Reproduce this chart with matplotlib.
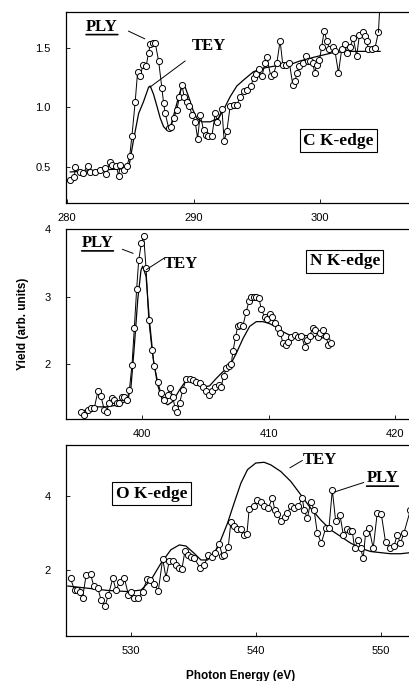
import numpy as np
import matplotlib
matplotlib.use("Agg")
import matplotlib.pyplot as plt

plt.rcParams['font.family'] = ['Liberation Sans', 'DejaVu Sans']

# --- C K-edge ---
c_ply_x = [280.21, 280.58, 280.66, 281.05, 281.26, 281.63, 281.84, 282.24, 282.63, 282.97,
           283.11, 283.37, 283.55, 283.89, 284.08, 284.21, 284.53, 284.74, 284.95, 285.13,
           285.39, 285.58, 285.79, 286.00, 286.26, 286.45, 286.58, 286.79, 286.97, 287.24,
           287.50, 287.63, 287.76, 288.03, 288.21, 288.42, 288.68, 288.89, 289.08, 289.26,
           289.47, 289.68, 289.87, 290.13, 290.32, 290.53, 290.79, 290.97, 291.18, 291.45,
           291.71, 291.89, 292.24, 292.42, 292.63, 292.89, 293.16, 293.42, 293.68, 293.95,
           294.21, 294.53, 294.74, 294.95, 295.21, 295.39, 295.66, 295.79, 296.11, 296.32,
           296.58, 296.84, 297.05, 297.32, 297.58, 297.84, 298.03, 298.16, 298.37, 298.68,
           298.89, 299.08, 299.21, 299.42, 299.58, 299.74, 299.95, 300.13, 300.32, 300.53,
           300.74, 301.05, 301.18, 301.45, 301.71, 301.97, 302.11, 302.37, 302.63, 302.89,
           303.11, 303.37, 303.55, 303.68, 303.82, 304.08, 304.34, 304.61]
c_ply_y = [0.39, 0.42, 0.50, 0.46, 0.45, 0.51, 0.46, 0.46, 0.48, 0.49,
           0.44, 0.54, 0.52, 0.51, 0.43, 0.52, 0.48, 0.51, 0.59, 0.76,
           1.05, 1.30, 1.26, 1.36, 1.35, 1.46, 1.53, 1.54, 1.54, 1.39,
           1.16, 1.04, 0.95, 0.83, 0.84, 0.91, 0.98, 1.09, 1.19, 1.09,
           1.05, 1.01, 0.94, 0.88, 0.74, 0.94, 0.81, 0.77, 0.76, 0.76,
           0.95, 0.88, 0.99, 0.72, 0.80, 1.01, 1.02, 1.02, 1.09, 1.14,
           1.15, 1.18, 1.25, 1.28, 1.32, 1.26, 1.37, 1.42, 1.26, 1.28,
           1.37, 1.56, 1.36, 1.36, 1.37, 1.19, 1.22, 1.29, 1.35, 1.37,
           1.43, 1.39, 1.39, 1.37, 1.29, 1.36, 1.40, 1.51, 1.64, 1.56,
           1.49, 1.51, 1.47, 1.29, 1.49, 1.53, 1.46, 1.51, 1.58, 1.43,
           1.61, 1.63, 1.60, 1.56, 1.49, 1.49, 1.50, 1.63]
c_tail_x = [304.61, 304.85]
c_tail_y = [1.63, 2.10]
c_tey_x = [280.26, 284.87, 285.26, 285.66, 286.05, 286.45, 286.58, 286.84, 287.11, 287.37,
           287.63, 287.89, 288.16, 288.42, 288.82, 289.08, 289.34, 289.61, 289.95, 290.26,
           290.66, 291.32, 291.97, 292.37, 292.89, 293.42, 293.95, 294.74, 295.53, 296.58,
           297.63, 298.42, 299.47, 300.26, 301.05, 302.37, 303.68, 304.74]
c_tey_y = [0.46, 0.49, 0.73, 0.95, 1.05, 1.17, 1.18, 1.11, 1.01, 0.91,
           0.84, 0.81, 0.83, 0.93, 1.09, 1.18, 1.17, 1.09, 0.98, 0.91,
           0.88, 0.88, 0.91, 0.98, 1.09, 1.18, 1.23, 1.30, 1.33, 1.35,
           1.36, 1.39, 1.42, 1.44, 1.46, 1.47, 1.47, 1.47]

# --- N K-edge ---
n_ply_x = [395.17, 395.44, 395.70, 395.96, 396.23, 396.52, 396.75, 397.02, 397.20, 397.41,
           397.63, 397.81, 397.99, 398.21, 398.42, 398.60, 398.81, 399.00, 399.21, 399.39,
           399.58, 399.74, 399.95, 400.13, 400.32, 400.53, 400.79, 400.98, 401.24, 401.50,
           401.77, 402.03, 402.22, 402.43, 402.61, 402.77, 402.96, 403.22, 403.48, 403.75,
           404.01, 404.27, 404.54, 404.80, 405.07, 405.28, 405.54, 405.80, 406.07, 406.25,
           406.44, 406.65, 406.86, 407.04, 407.18, 407.39, 407.57, 407.76, 407.97, 408.23,
           408.44, 408.63, 408.81, 409.02, 409.23, 409.42, 409.68, 409.87, 410.08, 410.29,
           410.47, 410.74, 410.92, 411.13, 411.35, 411.53, 411.79, 412.06, 412.32, 412.59,
           412.85, 413.03, 413.25, 413.46, 413.64, 413.91, 414.09, 414.30, 414.51, 414.70,
           414.88]
n_ply_y = [1.29, 1.25, 1.33, 1.35, 1.35, 1.60, 1.53, 1.33, 1.30, 1.42,
           1.50, 1.47, 1.42, 1.42, 1.52, 1.52, 1.47, 1.62, 1.99, 2.53,
           3.12, 3.54, 3.79, 3.90, 3.42, 2.66, 2.21, 1.97, 1.74, 1.57,
           1.47, 1.55, 1.65, 1.52, 1.35, 1.30, 1.42, 1.62, 1.78, 1.78,
           1.77, 1.74, 1.72, 1.67, 1.60, 1.55, 1.60, 1.67, 1.69, 1.67,
           1.82, 1.94, 1.97, 2.00, 2.19, 2.41, 2.57, 2.58, 2.57, 2.78,
           2.93, 2.99, 3.00, 2.99, 2.98, 2.81, 2.70, 2.67, 2.74, 2.70,
           2.61, 2.53, 2.46, 2.31, 2.29, 2.33, 2.41, 2.43, 2.41, 2.42,
           2.26, 2.36, 2.42, 2.53, 2.51, 2.41, 2.46, 2.50, 2.42, 2.29,
           2.31]
n_tey_x = [395.04, 396.09, 397.15, 398.21, 398.87, 399.13, 399.39, 399.66, 399.92, 400.05,
           400.32, 400.58, 400.90, 401.24, 401.64, 402.03, 402.43, 402.96, 403.48, 404.01,
           404.54, 405.07, 405.33, 405.86, 406.39, 406.91, 407.44, 407.97, 408.50, 409.02,
           409.55, 410.08, 410.61, 411.13, 411.66, 412.45, 413.25, 414.04, 414.83]
n_tey_y = [1.28, 1.37, 1.37, 1.40, 1.47, 1.67, 2.26, 2.95, 3.39, 3.45,
           3.30, 2.66, 2.06, 1.69, 1.45, 1.40, 1.45, 1.62, 1.76, 1.78,
           1.74, 1.67, 1.68, 1.79, 1.89, 1.97, 2.16, 2.38, 2.56, 2.63,
           2.63, 2.60, 2.55, 2.48, 2.43, 2.43, 2.42, 2.40, 2.37]

# --- O K-edge ---
o_ply_x = [525.16, 525.48, 525.69, 525.90, 526.12, 526.41, 526.76, 527.02, 527.34, 527.61,
           527.93, 528.19, 528.54, 528.80, 529.10, 529.47, 529.79, 530.00, 530.27, 530.59,
           530.93, 531.28, 531.54, 531.86, 532.18, 532.53, 532.79, 533.06, 533.32, 533.59,
           533.86, 534.07, 534.31, 534.52, 534.79, 535.05, 535.53, 535.85, 536.17, 536.44,
           536.70, 537.05, 537.31, 537.45, 537.77, 537.98, 538.24, 538.51, 538.78, 538.99,
           539.26, 539.44, 539.79, 540.05, 540.37, 540.64, 540.96, 541.30, 541.49, 541.70,
           541.97, 542.29, 542.50, 542.77, 543.03, 543.35, 543.70, 543.83, 544.10, 544.36,
           544.63, 544.89, 545.21, 545.56, 545.82, 546.09, 546.36, 546.70, 546.97, 547.29,
           547.50, 547.69, 547.87, 548.14, 548.35, 548.56, 548.75, 549.02, 549.36, 549.68,
           550.00, 550.35, 550.69, 551.01, 551.28, 551.54, 551.81, 552.34]
o_ply_y = [1.77, 1.45, 1.44, 1.41, 1.23, 1.86, 1.89, 1.56, 1.50, 1.18,
           1.02, 1.32, 1.77, 1.45, 1.68, 1.77, 1.32, 1.41, 1.23, 1.23,
           1.41, 1.75, 1.73, 1.62, 1.43, 2.30, 1.79, 2.25, 2.25, 2.14,
           2.05, 2.03, 2.52, 2.41, 2.36, 2.32, 2.05, 2.14, 2.41, 2.36,
           2.47, 2.70, 2.38, 2.41, 2.62, 3.30, 3.20, 3.12, 3.10, 2.95,
           2.97, 3.65, 3.73, 3.89, 3.86, 3.73, 3.68, 3.95, 3.64, 3.53,
           3.32, 3.45, 3.55, 3.73, 3.68, 3.73, 3.95, 3.62, 3.41, 3.86,
           3.64, 3.00, 2.73, 3.14, 3.14, 4.18, 3.32, 3.50, 2.95, 3.11,
           3.05, 3.05, 2.59, 2.82, 2.59, 2.32, 3.00, 3.14, 2.59, 3.55,
           3.53, 2.75, 2.59, 2.64, 2.95, 2.73, 3.00, 3.64]
o_tey_x = [524.95, 526.54, 528.14, 529.73, 530.80, 531.60, 532.39, 533.19, 533.86, 534.39,
           535.05, 535.59, 536.12, 536.65, 537.18, 537.71, 538.24, 538.78, 539.31, 539.97,
           540.64, 541.17, 541.97, 542.77, 543.56, 544.36, 545.16, 545.96, 546.76, 547.55,
           548.35, 549.15, 549.95, 550.74, 551.54, 552.34]
o_tey_y = [1.56, 1.50, 1.44, 1.41, 1.45, 1.73, 2.18, 2.55, 2.68, 2.65,
           2.45, 2.27, 2.27, 2.45, 2.82, 3.27, 3.82, 4.36, 4.73, 4.91,
           4.93, 4.86, 4.68, 4.41, 4.05, 3.68, 3.36, 3.09, 2.91, 2.73,
           2.59, 2.50, 2.47, 2.44, 2.44, 2.47]

SERIF = ['Liberation Serif', 'DejaVu Serif']

fig = plt.figure(figsize=(4.10, 6.81), dpi=100)

def make_axes(rect, xlim, ylim, xticks, yticks, yfmt):
    ax = fig.add_axes(rect)
    ax.set_xlim(*xlim)
    ax.set_ylim(*ylim)
    ax.set_xticks(xticks)
    ax.set_yticks(yticks)
    ax.set_yticklabels([yfmt.format(v) for v in yticks])
    ax.tick_params(direction='in', length=3, width=0.6, labelsize=8)
    ax.tick_params(axis='y', pad=11)
    ax.tick_params(axis='x', pad=7)
    for s in ax.spines.values():
        s.set_linewidth(0.9)
    return ax

def draw_ply(ax, x, y):
    ax.plot(x, y, '-', color='black', lw=0.7, marker='o', ms=4.4,
            mfc='white', mec='black', mew=0.7, zorder=3)

def draw_tey(ax, x, y):
    ax.plot(x, y, '-', color='black', lw=0.9, zorder=2)

def leader(ax, p0, p1):
    ax.annotate('', xy=p1, xytext=p0,
                arrowprops=dict(arrowstyle='-', lw=0.7, color='black',
                                shrinkA=0, shrinkB=0))

def edge_label(ax, x, y, txt):
    ax.text(x, y, txt, ha='center', va='center', fontsize=12.5,
            fontweight='bold', family=SERIF, zorder=5,
            bbox=dict(boxstyle='square,pad=0.2', fc='white', ec='black', lw=0.8))

def name_label(ax, x, y, txt, underline=False):
    t = ax.text(x, y, txt, ha='center', va='center', fontsize=12,
                fontweight='bold', family=SERIF, zorder=5)
    if underline:
        # underline drawn in the text's own bbox coordinates
        ax.annotate('', xy=(1.0, 0.02), xycoords=t, xytext=(0.0, 0.02), textcoords=t,
                    arrowprops=dict(arrowstyle='-', lw=1.2, color='black',
                                    shrinkA=0, shrinkB=0), zorder=6)

left, right = 66 / 410, 415 / 410
W = right - left

# C K-edge
ax1 = make_axes([left, 0.7019, W, 0.2805], (280 - 1 / 12.65, 307.5), (0.2, 1.8),
                [280, 290, 300], [0.5, 1.0, 1.5], '{:.1f}')
draw_tey(ax1, c_tey_x, c_tey_y)
draw_ply(ax1, c_ply_x, c_ply_y)
ax1.plot(c_tail_x, c_tail_y, '-', color='black', lw=0.7, zorder=3)
name_label(ax1, 282.76, 1.675, 'PLY', underline=True)
leader(ax1, (284.85, 1.64), (286.15, 1.575))
name_label(ax1, 291.24, 1.515, 'TEY')
leader(ax1, (289.34, 1.39), (286.55, 1.17))
edge_label(ax1, 301.47, 0.72, 'C K-edge')

# N K-edge
ax2 = make_axes([left, 0.3847, W, 0.2790], (394.0, 421.55), (1.19, 4.0),
                [400, 410, 420], [2, 3, 4], '{:.0f}')
draw_tey(ax2, n_tey_x, n_tey_y)
draw_ply(ax2, n_ply_x, n_ply_y)
name_label(ax2, 396.49, 3.79, 'PLY', underline=True)
leader(ax2, (398.45, 3.70), (399.3, 3.64))
name_label(ax2, 403.1, 3.49, 'TEY')
leader(ax2, (401.75, 3.57), (400.35, 3.40))
edge_label(ax2, 416.0, 3.52, 'N K-edge')
ax2.set_ylabel('Yield (arb. units)', fontsize=8.5, fontweight='bold', labelpad=11)

# O K-edge
ax3 = make_axes([left, 0.0661, W, 0.2804], (524.8, 552.7), (0.2, 5.4),
                [530, 540, 550], [2, 4], '{:.0f}')
draw_tey(ax3, o_tey_x, o_tey_y)
draw_ply(ax3, o_ply_x, o_ply_y)
name_label(ax3, 545.1, 5.0, 'TEY')
leader(ax3, (543.7, 4.98), (542.7, 4.78))
name_label(ax3, 550.1, 4.49, 'PLY', underline=True)
leader(ax3, (548.6, 4.38), (546.25, 4.12))
edge_label(ax3, 531.65, 4.07, 'O K-edge')
ax3.set_xlabel('Photon Energy (eV)', fontsize=8.5, fontweight='bold', labelpad=10)

fig.savefig('out.png', dpi=100)
